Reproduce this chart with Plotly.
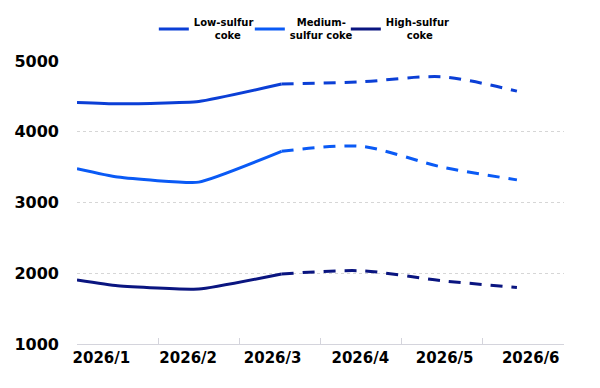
import plotly.graph_objects as go

# x positions in month-units along the axis (0..6), and axis labels
x_pos = [0, 0.5, 1.5, 2.52, 3.5, 4.5, 5.42]
split = 3  # index where actual (solid) turns into forecast (dashed)
tick_labels = ["2026/1", "2026/2", "2026/3", "2026/4", "2026/5", "2026/6"]
tick_pos = [0.30, 1.37, 2.41, 3.49, 4.53, 5.59]

low_sulfur = [4414, 4394, 4428, 4674, 4706, 4777, 4574]
medium_sulfur = [3478, 3359, 3288, 3723, 3794, 3500, 3320]
high_sulfur = [1905, 1823, 1776, 1990, 2035, 1894, 1800]

series = [
    ("Low-sulfur<br>\u00a0\u00a0\u00a0\u00a0\u00a0\u00a0coke", low_sulfur, "#0b3fd6"),
    ("\u00a0\u00a0Medium-<br>sulfur coke", medium_sulfur, "#0a5af5"),
    ("High-sulfur<br>\u00a0\u00a0\u00a0\u00a0\u00a0\u00a0coke", high_sulfur, "#0a1580"),
]

fig = go.Figure()
for name, vals, color in series:
    fig.add_trace(go.Scatter(
        x=x_pos[:split + 1], y=vals[:split + 1], mode="lines", name=name,
        line=dict(color=color, width=3, shape="spline", smoothing=0.4),
        showlegend=True, legendgroup=name, hoverinfo="skip"))
    fig.add_trace(go.Scatter(
        x=x_pos[split:], y=vals[split:], mode="lines", name=name,
        line=dict(color=color, width=3, dash="12px,9px", shape="spline", smoothing=0.8),
        showlegend=False, legendgroup=name, hoverinfo="skip"))

# empty spacer entry so the last legend label is not clipped
fig.add_trace(go.Scatter(x=[None], y=[None], mode="lines", name=" ",
                         line=dict(width=0, color="rgba(0,0,0,0)"),
                         showlegend=True, hoverinfo="skip"))

fig.update_layout(
    width=592, height=380,
    margin=dict(l=69, r=36, t=53, b=44, autoexpand=False),
    paper_bgcolor="white", plot_bgcolor="white",
    font=dict(family="DejaVu Sans", color="black"),
    legend=dict(
        orientation="h", x=0.552, xanchor="center", y=1.113, yanchor="middle",
        yref="paper", font=dict(size=10, family="DejaVu Sans", weight="bold"),
        itemwidth=30, tracegroupgap=0, valign="middle",
        entrywidth=51, entrywidthmode="pixels",
    ),
    xaxis=dict(
        range=[0, 6], tickmode="array", tickvals=tick_pos, ticktext=tick_labels,
        ticks="", showgrid=False, zeroline=False,
        showline=True, linecolor="#d4d4dc", linewidth=1,
        tickfont=dict(size=15, family="DejaVu Sans", weight="bold"),
        minor=dict(tickmode="array", tickvals=[1, 2, 3, 4, 5], ticks="inside",
                   ticklen=6, tickcolor="#d4d4dc", showgrid=False),
    ),
    yaxis=dict(
        range=[1000, 5000], tickvals=[1000, 2000, 3000, 4000, 5000],
        showgrid=True, gridcolor="#d6d6d6", griddash="dot", gridwidth=1,
        zeroline=False, showline=False, ticks="",
        ticklabelstandoff=17,
        tickfont=dict(size=16, family="DejaVu Sans", weight="bold"),
    ),
)

fig.write_html("out.html")
